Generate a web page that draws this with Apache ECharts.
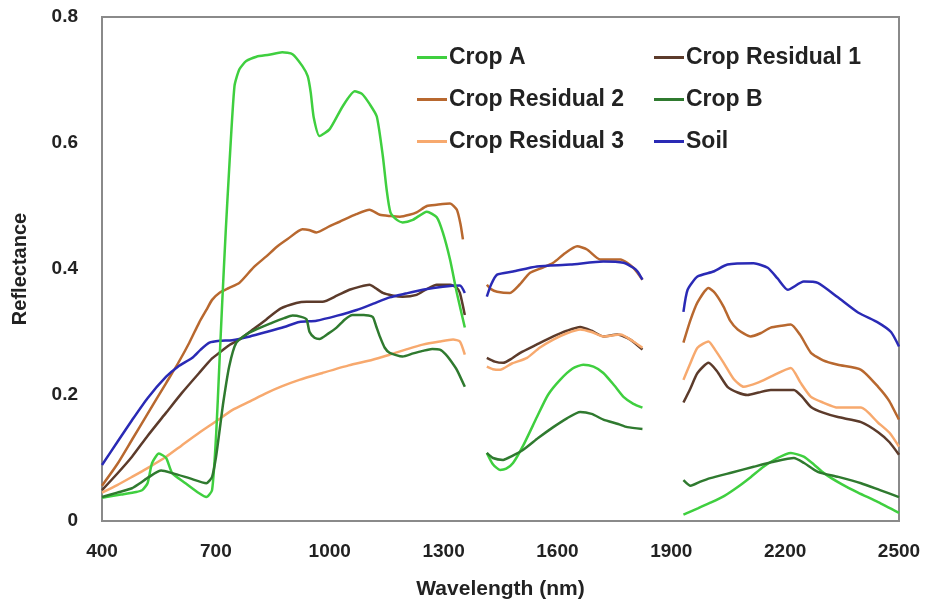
<!DOCTYPE html>
<html>
<head>
<meta charset="utf-8">
<script src="https://cdn.jsdelivr.net/npm/echarts@6/dist/echarts.min.js"></script>
<style>
  html, body { margin: 0; padding: 0; background: #fff; }
  #chart { width: 929px; height: 606px; }
</style>
</head>
<body>
<div id="chart"></div>
<script>
// Wavelength tick labels (nm) and reflectance range
const xTicks = [400, 700, 1000, 1300, 1600, 1900, 2200, 2500];
const yTicks = [0, 0.2, 0.4, 0.6, 0.8];

// Spectra as [wavelength, reflectance]; null rows mark the water-absorption gaps
const cropA = [
  [400,0.037],[450,0.042],[490,0.046],[506,0.049],[520,0.06],[532,0.092],[550,0.107],[569,0.1],[585,0.076],
  [620,0.06],[656,0.044],[675,0.038],[690,0.049],[701,0.14],[709,0.245],[717,0.35],[726,0.46],[735,0.558],
  [749,0.69],[762,0.717],[780,0.73],[807,0.737],[840,0.74],[875,0.744],[902,0.741],[928,0.722],[942,0.706],
  [950,0.68],[958,0.64],[973,0.611],[1000,0.622],[1034,0.658],[1066,0.682],[1085,0.678],[1105,0.662],
  [1124,0.642],[1140,0.579],[1150,0.526],[1160,0.49],[1177,0.478],[1192,0.474],[1219,0.478],[1256,0.491],
  [1282,0.482],[1298,0.458],[1317,0.415],[1335,0.362],[1356,0.307],
  [1380,null],
  [1414,0.108],[1430,0.09],[1449,0.081],[1465,0.083],[1483,0.092],[1510,0.12],[1546,0.165],[1575,0.2],
  [1607,0.224],[1640,0.242],[1668,0.248],[1695,0.245],[1721,0.235],[1750,0.215],[1774,0.197],[1800,0.186],[1824,0.18],
  [1880,null],
  [1932,0.01],[1970,0.02],[2003,0.029],[2040,0.04],[2075,0.054],[2110,0.07],[2143,0.086],[2180,0.1],[2215,0.108],
  [2249,0.102],[2275,0.09],[2302,0.076],[2350,0.058],[2392,0.045],[2445,0.03],[2500,0.013]
];

const cropB = [
  [400,0.038],[440,0.045],[479,0.052],[500,0.06],[524,0.07],[556,0.08],[585,0.076],[630,0.068],[675,0.06],
  [690,0.07],[700,0.1],[709,0.14],[720,0.19],[735,0.245],[754,0.283],[788,0.299],[849,0.315],[880,0.322],
  [902,0.326],[925,0.324],[939,0.32],[947,0.3],[960,0.291],[973,0.289],[995,0.297],[1018,0.307],[1040,0.32],
  [1060,0.327],[1090,0.327],[1113,0.324],[1122,0.31],[1132,0.293],[1145,0.275],[1158,0.267],[1192,0.261],
  [1220,0.266],[1245,0.27],[1270,0.273],[1290,0.272],[1305,0.265],[1317,0.256],[1335,0.24],[1356,0.213],
  [1380,null],
  [1414,0.108],[1430,0.1],[1457,0.097],[1480,0.103],[1510,0.113],[1550,0.132],[1589,0.149],[1625,0.163],
  [1660,0.173],[1690,0.17],[1721,0.161],[1760,0.154],[1784,0.149],[1824,0.146],
  [1880,null],
  [1932,0.065],[1951,0.056],[1975,0.062],[2003,0.068],[2060,0.077],[2117,0.086],[2170,0.094],[2223,0.1],
  [2250,0.092],[2286,0.078],[2340,0.07],[2400,0.06],[2450,0.049],[2500,0.038]
];

const residual1 = [
  [400,0.049],[440,0.075],[479,0.102],[520,0.135],[569,0.172],[610,0.203],[656,0.235],[690,0.258],[709,0.267],
  [735,0.279],[762,0.288],[800,0.305],[833,0.32],[870,0.337],[912,0.346],[939,0.348],[981,0.348],[1020,0.358],
  [1052,0.367],[1080,0.372],[1105,0.375],[1120,0.37],[1140,0.362],[1165,0.358],[1192,0.356],[1229,0.359],
  [1255,0.368],[1282,0.375],[1317,0.375],[1335,0.37],[1343,0.362],[1356,0.327],
  [1380,null],
  [1414,0.259],[1435,0.253],[1457,0.251],[1480,0.258],[1502,0.267],[1545,0.28],[1589,0.293],[1625,0.302],
  [1660,0.308],[1690,0.302],[1721,0.293],[1758,0.296],[1792,0.288],[1824,0.272],
  [1880,null],
  [1932,0.188],[1950,0.21],[1969,0.235],[1998,0.251],[2020,0.238],[2048,0.213],[2075,0.204],[2101,0.2],
  [2130,0.204],[2162,0.208],[2223,0.208],[2245,0.197],[2268,0.181],[2300,0.172],[2339,0.165],[2400,0.157],
  [2445,0.141],[2475,0.125],[2500,0.105]
];

const residual2 = [
  [400,0.056],[440,0.09],[479,0.129],[520,0.17],[569,0.219],[600,0.25],[630,0.283],[656,0.315],[675,0.335],
  [690,0.351],[709,0.362],[735,0.37],[762,0.378],[800,0.403],[833,0.42],[860,0.435],[890,0.448],[928,0.463],
  [945,0.462],[965,0.458],[1000,0.468],[1026,0.475],[1070,0.487],[1105,0.494],[1132,0.486],[1160,0.484],
  [1185,0.483],[1210,0.486],[1229,0.49],[1256,0.5],[1282,0.502],[1317,0.504],[1335,0.494],[1345,0.47],[1351,0.447],
  [1380,null],
  [1414,0.375],[1425,0.368],[1441,0.364],[1475,0.362],[1500,0.375],[1528,0.394],[1560,0.402],[1589,0.41],
  [1620,0.425],[1652,0.436],[1678,0.431],[1713,0.415],[1766,0.415],[1800,0.402],[1824,0.383],
  [1880,null],
  [1932,0.283],[1950,0.318],[1969,0.347],[1998,0.37],[2015,0.362],[2038,0.34],[2055,0.318],[2075,0.304],
  [2109,0.293],[2135,0.298],[2162,0.307],[2190,0.31],[2215,0.312],[2240,0.295],[2268,0.267],[2300,0.255],
  [2339,0.248],[2400,0.24],[2445,0.213],[2475,0.19],[2500,0.161]
];

const residual3 = [
  [400,0.045],[440,0.057],[479,0.07],[520,0.084],[569,0.102],[610,0.12],[656,0.14],[700,0.158],[743,0.176],
  [790,0.19],[833,0.203],[875,0.214],[920,0.224],[981,0.235],[1050,0.247],[1113,0.256],[1158,0.264],
  [1200,0.272],[1245,0.28],[1290,0.285],[1325,0.288],[1343,0.285],[1356,0.264],
  [1380,null],
  [1414,0.245],[1430,0.241],[1449,0.24],[1480,0.25],[1520,0.259],[1553,0.275],[1589,0.288],[1625,0.298],
  [1660,0.304],[1690,0.3],[1721,0.293],[1766,0.296],[1800,0.285],[1824,0.275],
  [1880,null],
  [1932,0.224],[1950,0.25],[1969,0.275],[1998,0.285],[2015,0.272],[2038,0.251],[2065,0.225],[2091,0.213],
  [2130,0.22],[2162,0.229],[2215,0.243],[2240,0.22],[2268,0.197],[2300,0.188],[2339,0.18],[2400,0.18],
  [2445,0.156],[2475,0.14],[2500,0.118]
];

const soil = [
  [400,0.089],[440,0.125],[479,0.16],[520,0.195],[569,0.229],[600,0.245],[638,0.259],[660,0.272],[683,0.283],
  [710,0.286],[743,0.287],[790,0.293],[833,0.3],[880,0.308],[920,0.316],[965,0.318],[1020,0.326],[1071,0.335],
  [1115,0.345],[1158,0.355],[1200,0.361],[1245,0.367],[1298,0.372],[1343,0.374],[1356,0.362],
  [1380,null],
  [1414,0.356],[1425,0.375],[1441,0.391],[1483,0.396],[1546,0.404],[1634,0.407],[1721,0.412],[1774,0.41],
  [1800,0.402],[1811,0.396],[1824,0.383],
  [1880,null],
  [1932,0.332],[1943,0.367],[1969,0.388],[2011,0.396],[2048,0.407],[2117,0.409],[2154,0.402],[2180,0.385],
  [2207,0.367],[2249,0.38],[2286,0.378],[2339,0.355],[2392,0.331],[2445,0.315],[2479,0.3],[2500,0.277]
];

const seriesNames = ['Crop A', 'Crop Residual 1', 'Crop Residual 2', 'Crop B', 'Crop Residual 3', 'Soil'];
const seriesData = [cropA, residual1, residual2, cropB, residual3, soil];
const seriesColors = ['#3fcf3f', '#5c3b2b', '#b8682f', '#2f7a2f', '#f7a96e', '#2a2ab5'];

const FONT = '"Liberation Sans", Arial, sans-serif';
const textColor = '#222';

const chart = echarts.init(document.getElementById('chart'), null, { renderer: 'canvas' });

// Legend swatch: a short horizontal stroke
const legendCommon = {
  orient: 'vertical', top: 46, padding: 0,
  icon: 'rect', itemWidth: 30, itemHeight: 3, itemGap: 19,
  textStyle: { fontFamily: FONT, fontWeight: 'bold', fontSize: 23, color: textColor, padding: [0, 0, 0, -3] }
};

const option = {
  backgroundColor: '#ffffff',
  animation: false,
  grid: {
    left: 102, right: 30, top: 17, bottom: 85,
    show: true, borderColor: '#8a8a8a', borderWidth: 2, backgroundColor: 'transparent'
  },
  legend: [
    Object.assign({ data: ['Crop A', 'Crop Residual 2', 'Crop Residual 3'], left: 417 }, legendCommon),
    Object.assign({ data: ['Crop Residual 1', 'Crop B', 'Soil'], left: 654 }, legendCommon)
  ],
  xAxis: {
    type: 'value', min: 400, max: 2500,
    name: 'Wavelength (nm)', nameLocation: 'middle', nameGap: 58,
    nameTextStyle: { fontFamily: FONT, fontWeight: 'bold', fontSize: 21, color: textColor },
    axisLine: { show: false }, axisTick: { show: false }, splitLine: { show: false },
    axisLabel: {
      customValues: xTicks, margin: 21,
      formatter: (v) => String(v),
      fontFamily: FONT, fontWeight: 'bold', fontSize: 19, color: textColor
    }
  },
  yAxis: {
    type: 'value', min: yTicks[0], max: yTicks[yTicks.length - 1], interval: 0.2,
    name: 'Reflectance', nameLocation: 'middle', nameGap: 72,
    nameTextStyle: { fontFamily: FONT, fontWeight: 'bold', fontSize: 20, color: textColor },
    axisLine: { show: false }, axisTick: { show: false }, splitLine: { show: false },
    axisLabel: {
      margin: 24,
      formatter: (v) => String(v),
      fontFamily: FONT, fontWeight: 'bold', fontSize: 19, color: textColor
    }
  },
  series: seriesNames.map((name, i) => ({
    name: name,
    type: 'line',
    data: seriesData[i],
    showSymbol: false,
    symbol: 'none',
    connectNulls: false,
    smooth: 0.2,
    color: seriesColors[i],
    lineStyle: { width: 2.5, color: seriesColors[i] },
    z: [3, 2, 2, 3, 2, 2][i]
  }))
};

chart.setOption(option);
</script>
</body>
</html>
